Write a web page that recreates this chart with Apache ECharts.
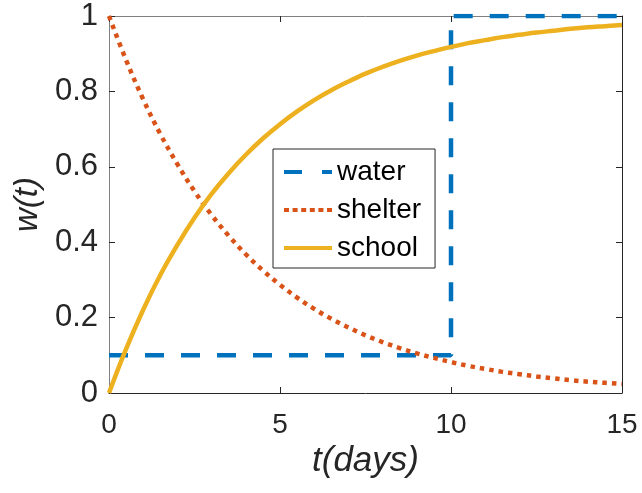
<!DOCTYPE html>
<html><head><meta charset="utf-8">
<script src="https://cdn.jsdelivr.net/npm/echarts@6/dist/echarts.min.js"></script>
<style>html,body{margin:0;padding:0;background:#fff}#c{width:642px;height:493px}</style>
</head><body><div id="c"></div>
<script>
const tValues = [0,0.5,1,1.5,2,2.5,3,3.5,4,4.5,5,5.5,6,6.5,7,7.5,8,8.5,9,9.5,10,10.5,11,11.5,12,12.5,13,13.5,14,14.5,15];
const shelterValues = [1.000,0.883,0.779,0.687,0.607,0.535,0.472,0.417,0.368,0.325,0.287,0.253,0.223,0.197,0.174,0.153,0.135,0.119,0.105,0.093,0.082,0.072,0.064,0.056,0.050,0.044,0.039,0.034,0.030,0.027,0.024];
const schoolValues = [0.000,0.117,0.221,0.313,0.393,0.465,0.528,0.583,0.632,0.675,0.713,0.747,0.777,0.803,0.826,0.847,0.865,0.881,0.895,0.907,0.918,0.928,0.936,0.944,0.950,0.956,0.961,0.966,0.970,0.973,0.976];
const waterT = [0,10,10,15];
const waterValues = [0.1,0.1,1,1];
const xTicks = [0,5,10,15];
const yTicks = [0,0.2,0.4,0.6,0.8,1];
const seriesNames = ['water','shelter','school'];

const zip = (xs, ys) => xs.map((x,i)=>[x, ys[i]]);
const font = "'Liberation Sans', Arial, sans-serif";
const txt = '#262626';

const iconWater = 'path://M0,0h18v4h-18z M38,0h10v4h-10z';
const iconShelter = 'path://M0,0h5v4h-5z M8.6,0h5v4h-5z M17.2,0h5v4h-5z M25.8,0h5v4h-5z M34.4,0h5v4h-5z M43,0h5v4h-5z';
const iconSchool = 'path://M0,0h48v4h-48z';

const chart = echarts.init(document.getElementById('c'), null, {renderer:'canvas'});
const yLabelFmt = v => { const s = yTicks.find(t => Math.abs(t - v) < 1e-9); return s === undefined ? '' : String(s); };
const xLabelFmt = v => { const s = xTicks.find(t => Math.abs(t - v) < 1e-9); return s === undefined ? '' : String(s); };
chart.setOption({
  animation:false,
  backgroundColor:'#fff',
  grid:{left:109, right:20, top:16, bottom:100, containLabel:false},
  legend:{
    data:[
      {name:seriesNames[0], icon:iconWater},
      {name:seriesNames[1], icon:iconShelter},
      {name:seriesNames[2], icon:iconSchool}
    ],
    orient:'vertical', left:273, top:149,
    backgroundColor:'#fff', borderColor:txt, borderWidth:1, borderRadius:0,
    padding:[9,14,6,11], itemGap:10,
    itemWidth:48, itemHeight:4, symbolKeepAspect:false,
    textStyle:{fontFamily:font, fontSize:28, color:'#000', lineHeight:28}
  },
  xAxis:[{
    type:'value', min:0, max:15, interval:5, position:'bottom',
    name:'t(days)', nameLocation:'middle', nameGap:47,
    nameTextStyle:{fontFamily:font, fontSize:35, fontStyle:'italic', color:txt},
    axisLine:{show:true, onZero:false, lineStyle:{color:txt, width:1}},
    axisTick:{show:true, inside:true, length:6, lineStyle:{color:txt}},
    axisLabel:{fontFamily:font, fontSize:28, color:txt, margin:18, formatter:xLabelFmt},
    splitLine:{show:false}
  },{
    type:'value', min:0, max:15, interval:5, position:'top',
    axisLine:{show:true, onZero:false, lineStyle:{color:'#808080', width:1}},
    axisTick:{show:true, inside:true, length:6, lineStyle:{color:txt}},
    axisLabel:{show:false}, splitLine:{show:false}
  }],
  yAxis:[{
    type:'value', min:0, max:1, interval:0.2, position:'left',
    name:'w(t)', nameLocation:'middle', nameGap:64,
    nameTextStyle:{fontFamily:font, fontSize:33, fontStyle:'italic', color:txt},
    axisLine:{show:true, onZero:false, lineStyle:{color:'#808080', width:1}},
    axisTick:{show:true, inside:true, length:6, lineStyle:{color:txt}},
    axisLabel:{fontFamily:font, fontSize:31, color:txt, margin:11, formatter:yLabelFmt},
    splitLine:{show:false}
  },{
    type:'value', min:0, max:1, interval:0.2, position:'right',
    axisLine:{show:true, onZero:false, lineStyle:{color:txt, width:1}},
    axisTick:{show:true, inside:true, length:6, lineStyle:{color:txt}},
    axisLabel:{show:false}, splitLine:{show:false}
  }],
  series:[
    {name:'water', type:'line', data:zip(waterT, waterValues), showSymbol:false, symbol:'none',
     color:'#0072BD', lineStyle:{color:'#0072BD', width:4.5, type:[19,17], cap:'butt'}, z:3},
    {name:'shelter', type:'line', data:zip(tValues, shelterValues), showSymbol:false, symbol:'none', smooth:0.4,
     color:'#D95319', lineStyle:{color:'#D95319', width:4.5, type:[4.5,5], cap:'butt'}, z:4},
    {name:'school', type:'line', data:zip(tValues, schoolValues), showSymbol:false, symbol:'none', smooth:0.4,
     color:'#EDB120', lineStyle:{color:'#EDB120', width:4.5}, z:5}
  ]
});
</script></body></html>
